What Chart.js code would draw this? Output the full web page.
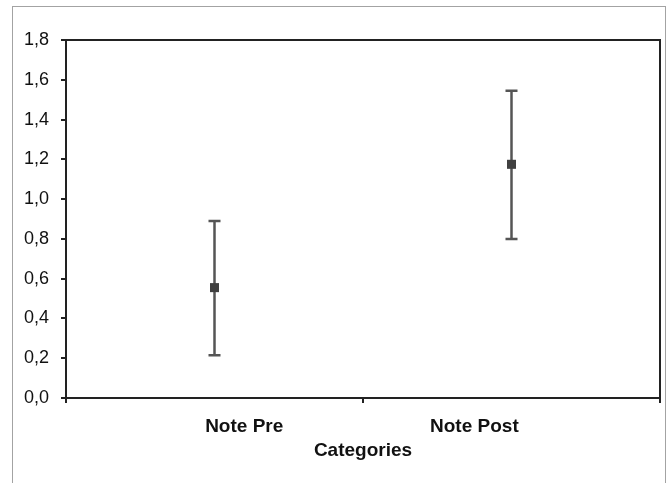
<!DOCTYPE html>
<html>
<head>
<meta charset="utf-8">
<script src="https://cdn.jsdelivr.net/npm/chart.js@4"></script>
<style>
  html, body { margin: 0; padding: 0; background: #fff; }
  #wrap { position: relative; width: 672px; height: 483px; }
  #frame { position: absolute; left: 12px; top: 6px; width: 654px; height: 490px;
           border: 1.5px solid #a3a3a3; border-bottom: none; box-sizing: border-box; pointer-events: none; }
  canvas { position: absolute; left: 0; top: 0; }
</style>
</head>
<body>
<div id="wrap">
  <canvas id="c" width="672" height="483"></canvas>
  <div id="frame"></div>
</div>
<script>
// ---- data ----
const categories = ['Note Pre', 'Note Post'];
const means = [0.555, 1.175];
const upper = [0.89, 1.545];
const lower = [0.215, 0.80];
const yTicks = [0, 0.2, 0.4, 0.6, 0.8, 1.0, 1.2, 1.4, 1.6, 1.8];
const xTitle = 'Categories';

// label placement (style): shift of each category label from its category centre
const labelShift = [0.1, -0.125];

const points = categories.map((c, i) => ({ x: i + 0.5, y: means[i] }));
const labelPos = categories.map((c, i) => i + 0.5 + labelShift[i]);
const boundaryTicks = categories.map((c, i) => i).concat([categories.length]);

const errorBars = {
  id: 'errorBars',
  beforeDatasetsDraw(chart) {
    const { ctx, scales: { x, y } } = chart;
    ctx.save();
    ctx.strokeStyle = '#555555';
    ctx.lineWidth = 2.5;
    categories.forEach((c, i) => {
      const px = x.getPixelForValue(i + 0.5);
      const yt = y.getPixelForValue(upper[i]);
      const yb = y.getPixelForValue(lower[i]);
      ctx.beginPath();
      ctx.moveTo(px, yt); ctx.lineTo(px, yb);
      ctx.moveTo(px - 6, yt); ctx.lineTo(px + 6, yt);
      ctx.moveTo(px - 6, yb); ctx.lineTo(px + 6, yb);
      ctx.stroke();
    });
    ctx.restore();
  }
};

const boxPlugin = {
  id: 'box',
  afterDraw(chart) {
    const { ctx, chartArea: a } = chart;
    ctx.save();
    ctx.strokeStyle = '#222222';
    ctx.lineWidth = 2;
    ctx.strokeRect(a.left, a.top, a.right - a.left, a.bottom - a.top);
    ctx.restore();
  }
};

new Chart(document.getElementById('c'), {
  type: 'scatter',
  data: {
    datasets: [{
      data: points,
      pointStyle: 'rect',
      pointRadius: 6.4,
      pointHoverRadius: 6.4,
      backgroundColor: '#404040',
      borderColor: '#404040',
      borderWidth: 0
    }]
  },
  options: {
    responsive: false,
    devicePixelRatio: 1,
    animation: false,
    layout: { padding: { left: 0, right: 12, top: 40, bottom: 0 } },
    plugins: { legend: { display: false }, tooltip: { enabled: false } },
    scales: {
      x: {
        type: 'linear',
        min: 0,
        max: categories.length,
        afterBuildTicks(scale) {
          const vals = boundaryTicks.concat(labelPos).sort((a, b) => a - b);
          scale.ticks = vals.map(v => ({ value: v }));
        },
        afterFit(scale) { scale.height = 85; },
        ticks: {
          autoSkip: false,
          maxRotation: 0,
          padding: 12,
          color: '#111111',
          font: { family: 'Liberation Sans, Arial, sans-serif', size: 19, weight: 'bold' },
          callback(v) {
            const idx = labelPos.findIndex(p => Math.abs(p - v) < 1e-9);
            return idx >= 0 ? categories[idx] : '';
          }
        },
        grid: {
          drawOnChartArea: false,
          drawTicks: true,
          tickLength: 5,
          lineWidth: 2,
          tickColor(ctx) {
            const v = ctx.tick && ctx.tick.value;
            return boundaryTicks.some(b => Math.abs(b - v) < 1e-9) ? '#222222' : 'rgba(0,0,0,0)';
          }
        },
        border: { display: true, color: '#222222', width: 2 },
        title: {
          display: true,
          text: xTitle,
          color: '#111111',
          font: { family: 'Liberation Sans, Arial, sans-serif', size: 19, weight: 'bold' },
          padding: { top: 0, bottom: 21 }
        }
      },
      y: {
        type: 'linear',
        min: yTicks[0],
        max: yTicks[yTicks.length - 1],
        afterBuildTicks(scale) { scale.ticks = yTicks.map(v => ({ value: v })); },
        afterFit(scale) { scale.width = 66; },
        ticks: {
          padding: 12,
          color: '#111111',
          font: { family: 'Liberation Sans, Arial, sans-serif', size: 18 },
          callback(v) { return v.toFixed(1).replace('.', ','); }
        },
        grid: {
          drawOnChartArea: false,
          drawTicks: true,
          tickLength: 5,
          lineWidth: 2,
          tickColor: '#222222'
        },
        border: { display: true, color: '#222222', width: 2 }
      }
    }
  },
  plugins: [errorBars, boxPlugin]
});
</script>
</body>
</html>
